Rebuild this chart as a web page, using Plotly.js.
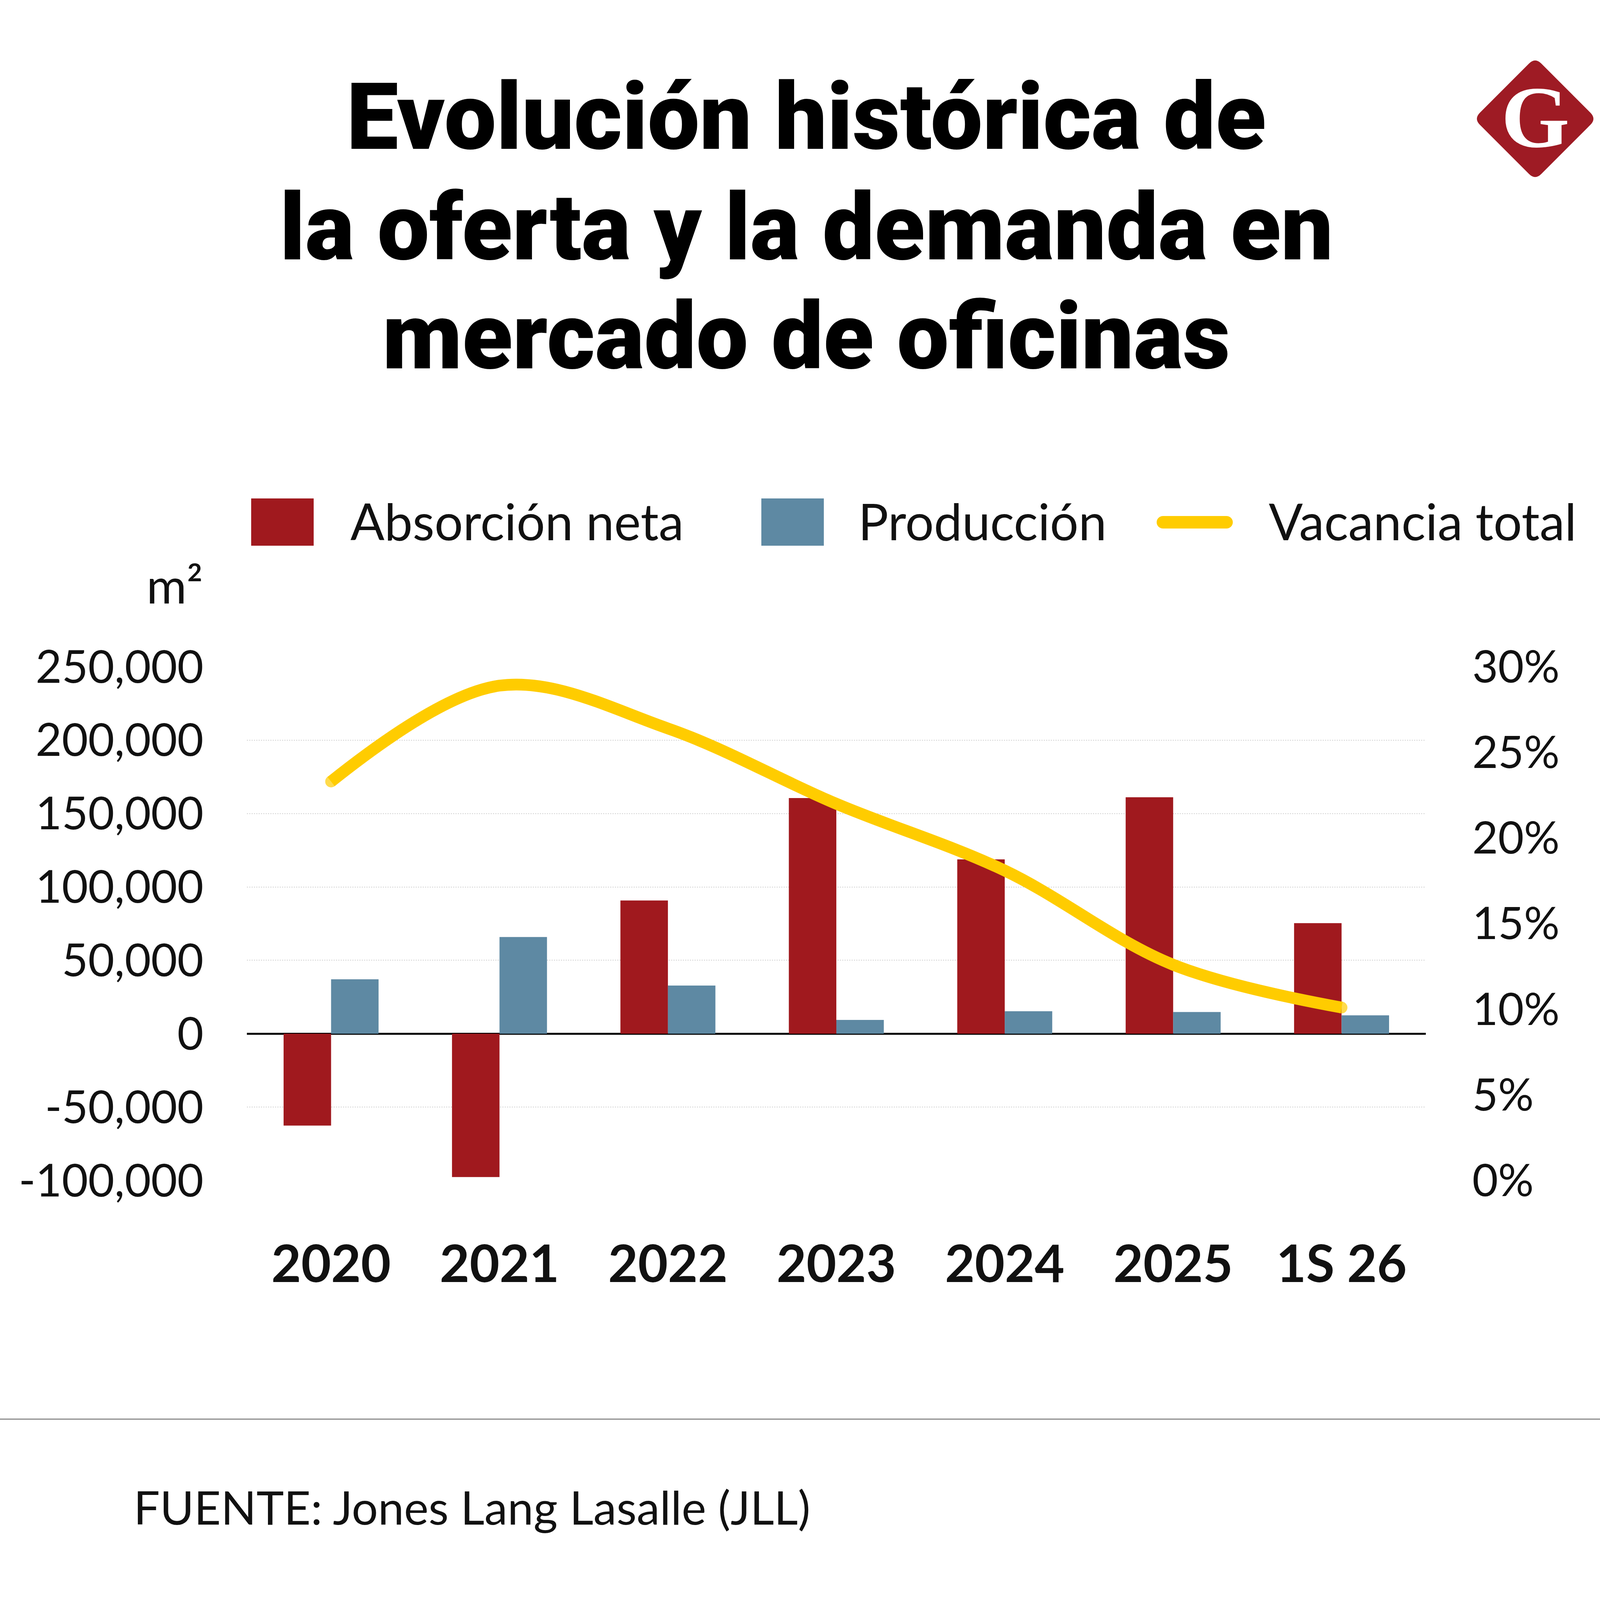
<!DOCTYPE html>
<html>
<head>
<meta charset="utf-8">
<script src="https://cdn.plot.ly/plotly-3.0.1.min.js"></script>
<style>
  html, body { margin: 0; padding: 0; background: #ffffff; }
  #chart { width: 4150px; height: 4208px; }
</style>
</head>
<body>
<div id="chart"></div>
<script>
// ---------- data ----------
const categories = ['2020', '2021', '2022', '2023', '2024', '2025', '1S 26'];
const absorcionNeta = [-62600, -97700, 90800, 160600, 118800, 161100, 75300];
const produccion = [37100, 65900, 32800, 9400, 15300, 14800, 12500];
const vacanciaTotal = [23.3, 28.9, 26.4, 22.0, 18.1, 12.6, 10.1];

const leftTickVals = [-100000, -50000, 0, 50000, 100000, 150000, 200000, 250000];
const leftTickText = ['-100,000', '-50,000', '0', '50,000', '100,000', '150,000', '200,000', '250,000'];
const rightTickVals = [0, 5, 10, 15, 20, 25, 30];
const rightTickText = ['0%', '5%', '10%', '15%', '20%', '25%', '30%'];

const titleLines = ['Evolución histórica de', 'la oferta y la demanda en', 'mercado de oficinas'];
const seriesNames = ['Absorción neta', 'Producción', 'Vacancia total'];
const unitLabel = 'm²';
const sourceText = 'FUENTE: Jones Lang Lasalle (JLL)';

// ---------- layout geometry (pixels) ----------
const W = 4150, H = 4208;
const PL = 632, PR = 3650, PT = 1707, PB = 3022;
const px = x => (x - PL) / (PR - PL);
const py = y => (PB - y) / (PB - PT);

const RED = '#A0191E', BLUE = '#5E89A3', YELLOW = '#FFCC00', TXT = '#111111';
const FONT = 'Lato, "Open Sans", sans-serif';
const TITLE_FONT = 'Roboto, Lato, sans-serif';

// rounded diamond logo path
function diamondPath(cx, cy, r, rad) {
  const pts = [[cx, cy - r], [cx + r, cy], [cx, cy + r], [cx - r, cy]];
  let d = '';
  for (let i = 0; i < 4; i++) {
    const p = pts[i], prev = pts[(i + 3) % 4], next = pts[(i + 1) % 4];
    const lp = Math.hypot(prev[0] - p[0], prev[1] - p[1]);
    const a = [p[0] + (prev[0] - p[0]) * rad / lp, p[1] + (prev[1] - p[1]) * rad / lp];
    const b = [p[0] + (next[0] - p[0]) * rad / lp, p[1] + (next[1] - p[1]) * rad / lp];
    d += (i === 0 ? 'M' : 'L') + px(a[0]) + ',' + py(a[1]) +
         ' Q' + px(p[0]) + ',' + py(p[1]) + ' ' + px(b[0]) + ',' + py(b[1]) + ' ';
  }
  return d + 'Z';
}
// capsule (rounded line) path for legend
function capsulePath(x0, x1, cy, h) {
  const r = h / 2;
  let d = 'M' + px(x0 + r) + ',' + py(cy - r) + ' L' + px(x1 - r) + ',' + py(cy - r);
  const steps = 12;
  for (let i = 1; i <= steps; i++) {
    const t = -Math.PI / 2 + Math.PI * i / steps;
    d += ' L' + px(x1 - r + r * Math.cos(t)) + ',' + py(cy + r * Math.sin(t));
  }
  d += ' L' + px(x0 + r) + ',' + py(cy + r);
  for (let i = 1; i <= steps; i++) {
    const t = Math.PI / 2 + Math.PI * i / steps;
    d += ' L' + px(x0 + r + r * Math.cos(t)) + ',' + py(cy + r * Math.sin(t));
  }
  return d + ' Z';
}

const traces = [
  {
    type: 'bar', name: seriesNames[0], x: categories, y: absorcionNeta,
    marker: { color: RED, line: { width: 0 } }, yaxis: 'y'
  },
  {
    type: 'bar', name: seriesNames[1], x: categories, y: produccion,
    marker: { color: BLUE, line: { width: 0 } }, yaxis: 'y'
  },
  {
    type: 'scatter', mode: 'lines+markers', name: seriesNames[2], x: categories, y: vacanciaTotal,
    yaxis: 'y2',
    line: { color: YELLOW, width: 30, shape: 'spline', smoothing: 1 },
    marker: { color: YELLOW, size: [30, 0, 0, 0, 0, 0, 30], line: { width: 0 } }
  }
];

const annotations = [];
const titleCenters = [300, 583, 862];
titleLines.forEach((t, i) => {
  annotations.push({
    text: t, xref: 'paper', yref: 'paper', x: px(2064), y: py(titleCenters[i]),
    xanchor: 'center', yanchor: 'middle', showarrow: false,
    font: { family: TITLE_FONT, size: 237, color: '#000000', weight: 900 }
  });
});
// logo letter
annotations.push({
  text: 'G', xref: 'paper', yref: 'paper', x: px(3930), y: py(300),
  xanchor: 'center', yanchor: 'middle', showarrow: false,
  font: { family: '"Liberation Serif", "DejaVu Serif", serif', size: 225, color: '#ffffff', weight: 700 }
});
// legend labels
const legendTextX = [895, 2195, 3246];
seriesNames.forEach((n, i) => {
  annotations.push({
    text: n, xref: 'paper', yref: 'paper', x: px(legendTextX[i]), y: py(1333),
    xanchor: 'left', yanchor: 'middle', showarrow: false,
    font: { family: FONT, size: 129, color: TXT }
  });
});
// unit label
annotations.push({
  text: unitLabel, xref: 'paper', yref: 'paper', x: px(522), y: py(1497),
  xanchor: 'right', yanchor: 'middle', showarrow: false,
  font: { family: FONT, size: 125, color: TXT }
});
// source
annotations.push({
  text: sourceText, xref: 'paper', yref: 'paper', x: px(340), y: py(3857),
  xanchor: 'left', yanchor: 'middle', showarrow: false,
  font: { family: FONT, size: 119, color: TXT }
});

const shapes = [
  // logo diamond
  { type: 'path', xref: 'paper', yref: 'paper', path: diamondPath(3930, 304, 157, 22),
    fillcolor: '#9E1B24', line: { width: 0 }, layer: 'below' },
  // legend symbols
  { type: 'rect', xref: 'paper', yref: 'paper', x0: px(643), x1: px(803), y0: py(1397), y1: py(1276),
    fillcolor: RED, line: { width: 0 } },
  { type: 'rect', xref: 'paper', yref: 'paper', x0: px(1949), x1: px(2109), y0: py(1397), y1: py(1276),
    fillcolor: BLUE, line: { width: 0 } },
  { type: 'path', xref: 'paper', yref: 'paper', path: capsulePath(2961, 3156, 1337, 32),
    fillcolor: YELLOW, line: { width: 0 } },
  // separator line
  { type: 'line', xref: 'paper', yref: 'paper', x0: px(0), x1: px(W), y0: py(3633), y1: py(3633),
    line: { color: '#8a8a8a', width: 3 } }
];

const layout = {
  width: W, height: H,
  margin: { l: PL, r: W - PR, t: PT, b: H - PB, pad: 0 },
  paper_bgcolor: '#ffffff', plot_bgcolor: '#ffffff',
  showlegend: false,
  barmode: 'group', bargap: 0.436, bargroupgap: 0,
  font: { family: FONT, color: TXT },
  xaxis: {
    type: 'category', showgrid: false, zeroline: false, showline: false, ticks: '',
    tickfont: { family: FONT, size: 132, color: TXT, weight: 700 },
    ticklabelstandoff: 127
  },
  yaxis: {
    range: [-100000, 250000], tickvals: leftTickVals, ticktext: leftTickText,
    showgrid: true, gridcolor: '#d4d4d4', gridwidth: 2, griddash: 'dot',
    zeroline: true, zerolinecolor: '#000000', zerolinewidth: 5,
    showline: false, ticks: '',
    tickfont: { family: FONT, size: 116, color: TXT },
    ticklabelstandoff: 110
  },
  yaxis2: {
    overlaying: 'y', side: 'right', range: [0, 30],
    tickvals: rightTickVals, ticktext: rightTickText,
    showgrid: false, zeroline: false, showline: false, ticks: '',
    tickfont: { family: FONT, size: 114, color: TXT },
    ticklabelstandoff: 118
  },
  annotations: annotations,
  shapes: shapes
};

Plotly.newPlot('chart', traces, layout, { staticPlot: true, displayModeBar: false });
</script>
</body>
</html>
